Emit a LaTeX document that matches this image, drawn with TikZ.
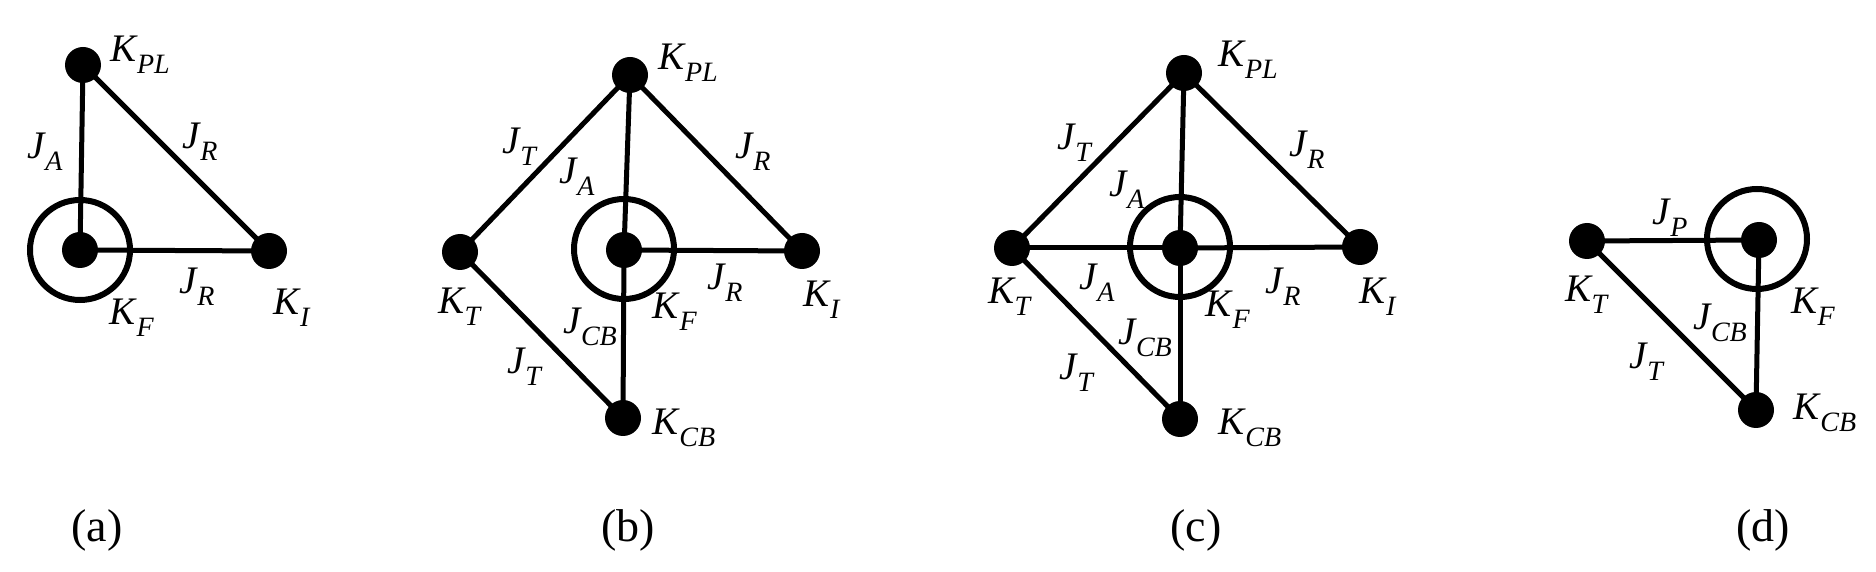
\documentclass[tikz,border=0pt]{standalone}
\usepackage{fontspec}
\setmainfont{Liberation Serif}
\newcommand\lb[2]{\textit{#1}\kern-0.5pt\raisebox{-0.3em}{\fontsize{14}{14}\selectfont\textit{#2}}}
\tikzset{
  dot/.style={circle,fill=black,inner sep=0pt,minimum size=18pt},
  ring/.style={circle,draw=black,line width=3pt,inner sep=0pt,minimum size=50pt},
  edge/.style={line width=2.5pt},
  txt/.style={inner sep=0pt,font=\fontsize{19.5}{19.5}\selectfont},
  captxt/.style={inner sep=0pt,font=\fontsize{23}{23}\selectfont}
}
\begin{document}
\begin{tikzpicture}[x=0.5pt,y=-0.5pt]
\useasboundingbox (0,0) rectangle (1876,572);
% ---------- (a)
\node[dot] (aPL) at (83,65) {};
\node[dot] (aF) at (80,250) {};
\node[ring] (aR) at (80,250) {};
\node[dot] (aI) at (269,251) {};
\draw[edge] (aPL.center) -- (aF.center);
\draw[edge] (aPL.center) -- (aI.center);
\draw[edge] (aF.center) -- (aI.center);
\node[txt] (aLPL) at (140,55) {\lb{K}{PL}};
\node[txt] (aLJA) at (45,152) {\lb{J}{A}};
\node[txt] (aLJR1) at (200,142) {\lb{J}{R}};
\node[txt] (aLJR2) at (197,287) {\lb{J}{R}};
\node[txt] (aLKF) at (132,318) {\lb{K}{F}};
\node[txt] (aLKI) at (292,308) {\lb{K}{I}};
\node[captxt] (capa) at (97,530) {(a)};
% ---------- (b)
\node[dot] (bPL) at (630,75) {};
\node[dot] (bT) at (460,252) {};
\node[dot] (bF) at (624,250) {};
\node[ring] (bR) at (624,249) {};
\node[dot] (bI) at (802,251) {};
\node[dot] (bCB) at (623,418) {};
\draw[edge] (bT.center) -- (bPL.center);
\draw[edge] (bPL.center) -- (bF.center);
\draw[edge] (bF.center) -- (bCB.center);
\draw[edge] (bPL.center) -- (bI.center);
\draw[edge] (bF.center) -- (bI.center);
\draw[edge] (bT.center) -- (bCB.center);
\node[txt] (bLPL) at (688,63) {\lb{K}{PL}};
\node[txt] (bLJT1) at (520,147) {\lb{J}{T}};
\node[txt] (bLJA) at (577,177) {\lb{J}{A}};
\node[txt] (bLJR1) at (753,152) {\lb{J}{R}};
\node[txt] (bLJR2) at (725,283) {\lb{J}{R}};
\node[txt] (bLKT) at (460,307) {\lb{K}{T}};
\node[txt] (bLJCB) at (590,327) {\lb{J}{CB}};
\node[txt] (bLKF) at (675,312) {\lb{K}{F}};
\node[txt] (bLKI) at (822,300) {\lb{K}{I}};
\node[txt] (bLJT2) at (525,367) {\lb{J}{T}};
\node[txt] (bLKCB) at (684,428) {\lb{K}{CB}};
\node[captxt] (capb) at (628,530) {(b)};
% ---------- (c)
\node[dot] (cPL) at (1184,73) {};
\node[dot] (cT) at (1012,248) {};
\node[dot] (cF) at (1180,248) {};
\node[ring] (cR) at (1180,247) {};
\node[dot] (cI) at (1360,247) {};
\node[dot] (cCB) at (1180,419) {};
\draw[edge] (cT.center) -- (cPL.center);
\draw[edge] (cPL.center) -- (cF.center);
\draw[edge] (cF.center) -- (cCB.center);
\draw[edge] (cPL.center) -- (cI.center);
\draw[edge] (cT.center) -- (cF.center);
\draw[edge] (cF.center) -- (cI.center);
\draw[edge] (cT.center) -- (cCB.center);
\node[txt] (cLPL) at (1248,60) {\lb{K}{PL}};
\node[txt] (cLJT1) at (1075,143) {\lb{J}{T}};
\node[txt] (cLJR1) at (1307,150) {\lb{J}{R}};
\node[txt] (cLJA1) at (1127,190) {\lb{J}{A}};
\node[txt] (cLJA2) at (1097,283) {\lb{J}{A}};
\node[txt] (cLJR2) at (1283,287) {\lb{J}{R}};
\node[txt] (cLKT) at (1010,297) {\lb{K}{T}};
\node[txt] (cLKF) at (1228,310) {\lb{K}{F}};
\node[txt] (cLKI) at (1378,297) {\lb{K}{I}};
\node[txt] (cLJCB) at (1145,338) {\lb{J}{CB}};
\node[txt] (cLJT2) at (1077,373) {\lb{J}{T}};
\node[txt] (cLKCB) at (1250,428) {\lb{K}{CB}};
\node[captxt] (capc) at (1196,530) {(c)};
% ---------- (d)
\node[dot] (dT) at (1587,241) {};
\node[dot] (dF) at (1759,240) {};
\node[ring] (dR) at (1757,239) {};
\node[dot] (dCB) at (1756,410) {};
\draw[edge] (dT.center) -- (dF.center);
\draw[edge] (dF.center) -- (dCB.center);
\draw[edge] (dT.center) -- (dCB.center);
\node[txt] (dLJP) at (1670,218) {\lb{J}{P}};
\node[txt] (dLKT) at (1587,295) {\lb{K}{T}};
\node[txt] (dLJCB) at (1720,323) {\lb{J}{CB}};
\node[txt] (dLKF) at (1813,307) {\lb{K}{F}};
\node[txt] (dLJT) at (1647,362) {\lb{J}{T}};
\node[txt] (dLKCB) at (1825,413) {\lb{K}{CB}};
\node[captxt] (capd) at (1763,530) {(d)};
\end{tikzpicture}
\end{document}
